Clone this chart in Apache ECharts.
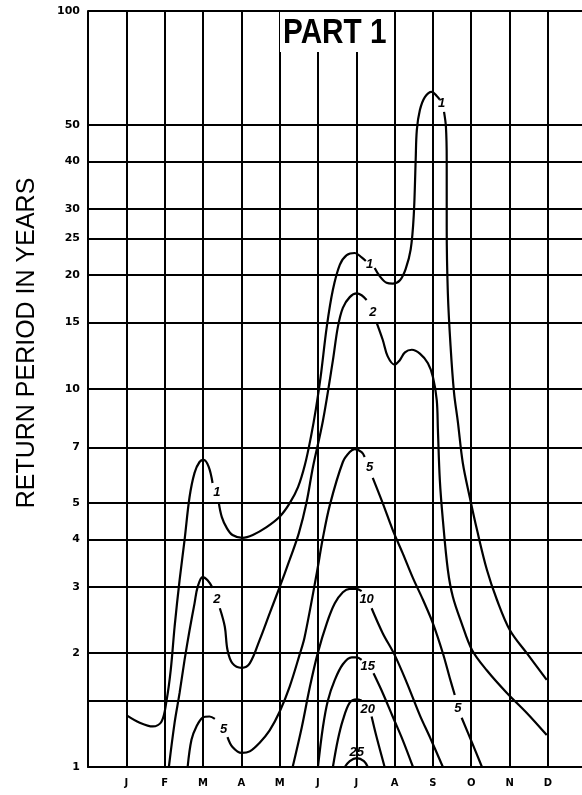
<!DOCTYPE html>
<html><head><meta charset="utf-8">
<script src="https://cdn.jsdelivr.net/npm/echarts@6/dist/echarts.min.js"></script>
<style>html,body{margin:0;padding:0;background:#fff}#c{width:582px;height:795px}</style>
</head><body><div id="c"></div>
<script>
// ---- axis data ----
const months = ['J','F','M','A','M','J','J','A','S','O','N','D'];
const monthPos = [1,2,3,4,5,6,7,8,9,10,11,12];
const yTickLabels = [1,2,3,4,5,7,10,15,20,25,30,40,50,100];
const yGridValues = [1,1.5,2,3,4,5,7,10,15,20,25,30,40,50,100];

// ---- curve segments: [month position, return period in years] ----
const curve1a = [[1.01,1.37],[1.35,1.31],[1.69,1.28],[1.92,1.32],[2.05,1.50],[2.16,1.81],[2.26,2.35],[2.39,3.12],[2.52,3.99],[2.65,5.18],[2.78,6.0],[2.91,6.41],[3.02,6.49],[3.15,6.22],[3.25,5.64]];
const curve1b = [[3.41,5.02],[3.49,4.59],[3.62,4.29],[3.77,4.11],[4.03,4.04],[4.30,4.11],[4.66,4.31],[5.00,4.59],[5.26,4.98],[5.48,5.50],[5.66,6.30],[5.82,7.50],[5.95,8.90],[6.07,10.76],[6.23,14.6],[6.39,18.3],[6.57,21.3],[6.75,22.6],[6.96,22.9],[7.14,22.3],[7.25,21.8]];
const curve1c = [[7.48,20.9],[7.61,19.9],[7.79,19.1],[7.95,19.0],[8.14,19.4],[8.29,20.8],[8.42,23.4],[8.50,28.8],[8.55,40.3],[8.58,48.4],[8.66,54.7],[8.79,59.2],[8.97,61.1],[9.10,59.6],[9.18,58.3]];
const curve1d = [[9.29,54.1],[9.34,49.3],[9.36,40.3],[9.36,26.8],[9.39,17.9],[9.46,13.0],[9.55,9.8],[9.65,8.2],[9.78,6.37],[9.96,5.18],[10.15,4.24],[10.41,3.32],[10.67,2.77],[11.01,2.30],[11.45,2.00],[11.97,1.70]];

const curve2a = [[2.11,1.0],[2.26,1.31],[2.39,1.57],[2.52,1.92],[2.65,2.30],[2.78,2.71],[2.86,2.99],[2.99,3.18],[3.12,3.12],[3.25,2.98]];
const curve2b = [[3.44,2.63],[3.57,2.35],[3.64,2.04],[3.77,1.88],[4.01,1.83],[4.22,1.88],[4.48,2.17],[4.74,2.55],[5.0,2.99],[5.26,3.53],[5.50,4.15],[5.70,5.0],[5.87,6.22],[6.13,8.24],[6.39,11.9],[6.52,14.6],[6.65,16.4],[6.83,17.5],[7.01,17.9],[7.14,17.7],[7.27,17.2]];
const curve2c = [[7.54,14.9],[7.69,13.5],[7.82,12.2],[8.00,11.6],[8.13,11.9],[8.27,12.5],[8.45,12.7],[8.66,12.4],[8.87,11.7],[9.0,10.76],[9.10,9.35],[9.13,7.8],[9.18,5.75],[9.26,4.5],[9.39,3.32],[9.52,2.82],[9.75,2.40],[10.02,2.04],[10.41,1.80],[10.93,1.57],[11.45,1.39],[11.97,1.215]];

const curve5a = [[2.60,1.0],[2.70,1.18],[2.83,1.28],[2.99,1.35],[3.17,1.36],[3.31,1.34]];
const curve5b = [[3.64,1.20],[3.77,1.13],[4.01,1.09],[4.22,1.10],[4.48,1.16],[4.74,1.25],[5.0,1.40],[5.26,1.63],[5.52,1.98],[5.65,2.20],[5.97,3.26],[6.12,3.99],[6.31,4.93],[6.65,6.41],[6.83,6.81],[6.96,6.93],[7.14,6.81],[7.22,6.61]];
const curve5c = [[7.43,5.82],[7.69,4.99],[7.95,4.24],[8.21,3.68],[8.48,3.16],[8.74,2.77],[9.0,2.40],[9.26,2.0],[9.44,1.72],[9.57,1.55]];
const curve5d = [[9.75,1.35],[10.02,1.16],[10.28,1.0]];

const curve10a = [[5.34,1.0],[5.58,1.276],[5.79,1.63],[6.0,2.01],[6.23,2.40],[6.44,2.71],[6.65,2.90],[6.83,2.96],[6.99,2.96],[7.14,2.92]];
const curve10b = [[7.40,2.63],[7.69,2.26],[8.0,1.98],[8.32,1.67],[8.66,1.37],[8.92,1.20],[9.26,1.0]];

const curve15a = [[6.0,1.0],[6.13,1.276],[6.26,1.50],[6.44,1.70],[6.65,1.87],[6.88,1.95],[7.01,1.95],[7.14,1.92]];
const curve15b = [[7.45,1.77],[7.69,1.57],[7.95,1.36],[8.21,1.18],[8.48,1.0]];

const curve20a = [[6.39,1.0],[6.52,1.18],[6.65,1.33],[6.83,1.48],[7.01,1.51],[7.14,1.50]];
const curve20b = [[7.40,1.36],[7.53,1.20],[7.74,1.0]];

const curve25 = [[6.70,1.0],[6.83,1.037],[7.01,1.056],[7.20,1.037],[7.30,1.0]];

// ---- contour labels: [month position, return period, text] ----
const contourLabels = [[3.36,5.34,'1'],[7.35,21.4,'1'],[9.23,57.1,'1'],[3.36,2.78,'2'],[7.43,15.96,'2'],[3.54,1.26,'5'],[7.35,6.19,'5'],[9.65,1.43,'5'],[7.27,2.78,'10'],[7.30,1.84,'15'],[7.30,1.42,'20'],[7.01,1.09,'25']];

const segments = [curve1a,curve1b,curve1c,curve1d,curve2a,curve2b,curve2c,curve5a,curve5b,curve5c,curve5d,curve10a,curve10b,curve15a,curve15b,curve20a,curve20b,curve25];

const chart = echarts.init(document.getElementById('c'), null, {renderer:'canvas'});
const series = segments.map(d => ({
  type:'line', data:d, showSymbol:false, symbol:'none', smooth:0.35, z:3,
  lineStyle:{color:'#000', width:2.2}, silent:true, animation:false
}));
series.push({
  type:'scatter', data:contourLabels, symbol:'circle', symbolSize:2, itemStyle:{color:'rgba(0,0,0,0)', opacity:1}, z:4, animation:false,
  labelLayout:{hideOverlap:false},
  label:{show:true, position:'inside', formatter:p=>p.value[2], color:'#000', opacity:1, textBorderWidth:0,
    fontFamily:'Liberation Sans', fontStyle:'italic', fontWeight:'bold', fontSize:13}
});

chart.setOption({
  backgroundColor:'#fff',
  animation:false,
  grid:{left:88, right:0, top:11, bottom:28, containLabel:false},
  xAxis:{type:'value', min:0, max:12.89, interval:1,
    axisLine:{show:true, lineStyle:{color:'#000', width:2}},
    axisTick:{show:false, customValues:monthPos},
    splitLine:{show:true, lineStyle:{color:'#000', width:2}},
    axisLabel:{customValues:monthPos, margin:11, color:'#000', fontFamily:'DejaVu Sans', fontWeight:'bold', fontSize:10,
      formatter:v=>months[Math.round(v)-1]||''}
  },
  yAxis:{type:'log', logBase:10, min:1, max:100,
    axisLine:{show:true, lineStyle:{color:'#000', width:2}},
    axisTick:{show:false, customValues:yGridValues},
    splitLine:{show:true, lineStyle:{color:'#000', width:2}},
    minorSplitLine:{show:false},
    axisLabel:{customValues:yTickLabels, margin:8, color:'#000', fontFamily:'DejaVu Sans', fontWeight:'bold', fontSize:11,
      formatter:v=>String(v)}
  },
  graphic:[
    {type:'rect', z:100, shape:{x:280, y:12, width:113, height:40}, style:{fill:'#fff'}},
    {type:'text', z:101, x:283, y:33, scaleX:0.85, style:{text:'PART 1', font:'bold 35px "Liberation Sans"', fill:'#000', verticalAlign:'middle', align:'left'}},
    {type:'text', z:101, x:27, y:343, rotation:Math.PI/2, style:{text:'RETURN PERIOD IN YEARS', font:'25px "Liberation Sans"', fill:'#000', verticalAlign:'middle', align:'center'}}
  ],
  series:series
});
</script></body></html>
